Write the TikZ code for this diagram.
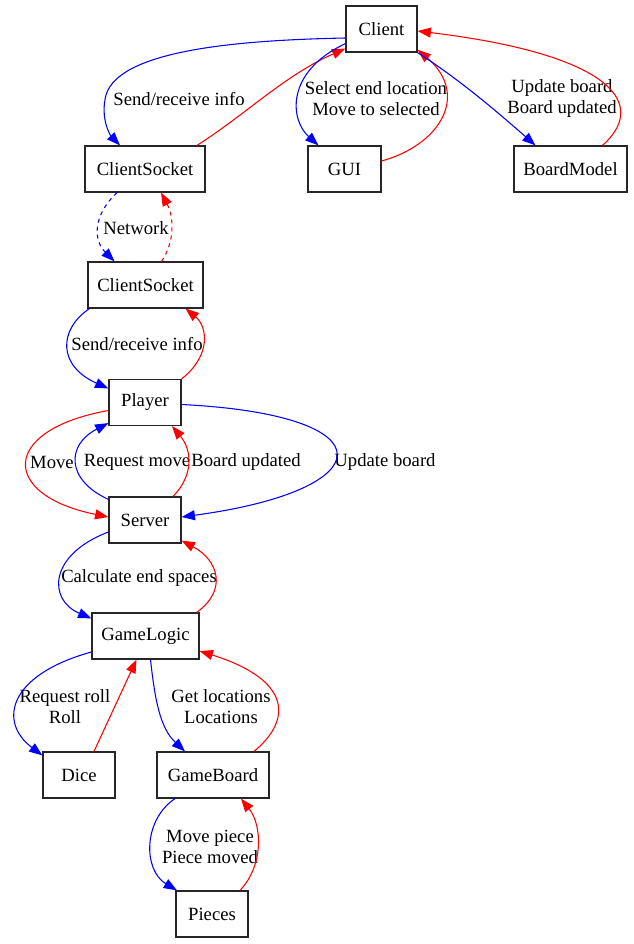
\documentclass[tikz,border=0pt]{standalone}
\usepackage{fontspec}
\setmainfont{Liberation Serif}
\newfontfamily\tms{Liberation Serif}
\usetikzlibrary{arrows.meta,calc}
\begin{document}
\begin{tikzpicture}[x=0.75pt,y=-0.75pt,
  box/.style={draw=black!85,line width=0.9pt,rectangle,inner sep=0pt,minimum height=34.5pt,font=\tms\fontsize{14pt}{16pt}\selectfont},
  lbl/.style={inner sep=0pt,align=center,font=\tms\fontsize{14pt}{15.75pt}\selectfont},
  tip/.style={-{Triangle[length=10pt,width=7.5pt]}},
  bl/.style={tip,draw=blue,line width=0.8pt},
  rd/.style={tip,draw=red,line width=0.8pt}]
\useasboundingbox (0,0) rectangle (633,944);
% nodes
\node[box,minimum width=53.25pt] (client) at (381.5,29) {Client};
\node[box,minimum width=90pt] (cs1) at (145,169) {ClientSocket};
\node[box,minimum width=54.75pt] (gui) at (344.5,169) {GUI};
\node[box,minimum width=84.75pt] (bm) at (570.5,169) {BoardModel};
\node[box,minimum width=86.25pt] (cs2) at (145.5,285) {ClientSocket};
\node[box,minimum width=54pt] (player) at (145,402.5) {Player};
\node[box,minimum width=54pt] (server) at (145,520) {Server};
\node[box,minimum width=80.25pt] (gl) at (145.5,636) {GameLogic};
\node[box,minimum width=54pt] (dice) at (79,775) {Dice};
\node[box,minimum width=84pt] (gb) at (213,775) {GameBoard};
\node[box,minimum width=54pt] (pieces) at (212,914) {Pieces};
% labels
\node[lbl] (l1) at (179,99) {Send/receive info};
\node[lbl] (l2) at (376,99) {Select end location\\Move to selected};
\node[lbl] (l3) at (562,99) {Update board\\Board updated};
\node[lbl] (l4) at (136,228) {Network};
\node[lbl] (l5) at (137,344) {Send/receive info};
\node[lbl] (l6) at (52,462) {Move};
\node[lbl] (l7) at (137,462) {Request move};
\node[lbl] (l8) at (246,462) {Board updated};
\node[lbl] (l9) at (385,462) {Update board};
\node[lbl] (l10) at (139,578) {Calculate end spaces};
\node[lbl] (l11) at (65,707) {Request roll\\Roll};
\node[lbl] (l12) at (221,707) {Get locations\\Locations};
\node[lbl] (l13) at (210,847) {Move piece\\Piece moved};
% edges
\draw[bl] ($(client.west)+(0,9)$) .. controls (250,40) and (120,48) .. (106,95) .. controls (100,118) and (110,135) .. ($(cs1.north)+(-25,0)$);
\draw[rd] ($(cs1.north)+(52,0)$) .. controls (245,115) and (285,75) .. ($(client.south west)+(0,-4)$);
\draw[bl] ($(client.south west)+(0,-9)$) .. controls (285,72) and (290,120) .. ($(gui.north)+(-26,0)$);
\draw[rd] ($(gui.east)+(0,-8)$) .. controls (440,145) and (470,95) .. ($(client.south east)+(0,-3)$);
\draw[bl] (client.south east) .. controls (460,80) and (495,110) .. ($(bm.north)+(-35,0)$);
\draw[rd] ($(bm.north)+(32,0)$) .. controls (648,105) and (615,55) .. ($(client.east)+(0,2)$);
\draw[bl,dashed] ($(cs1.south)+(-28,0)$) .. controls (93,215) and (93,240) .. ($(cs2.north)+(-31,0)$);
\draw[rd,dashed] ($(cs2.north)+(16,0)$) .. controls (176,240) and (173,215) .. ($(cs1.south)+(16,0)$);
\draw[bl] ($(cs2.south west)+(2,0)$) .. controls (58,330) and (58,366) .. ($(player.west)+(0,-14)$);
\draw[rd] (player.north east) .. controls (212,355) and (207,326) .. ($(cs2.south)+(40,0)$);
\draw[rd] ($(player.west)+(0,8)$) .. controls (0,430) and (0,495) .. ($(server.west)+(0,-3)$);
\draw[bl] ($(server.north west)+(0,3)$) .. controls (66,480) and (66,445) .. ($(player.south west)+(0,-3)$);
\draw[rd] ($(server.north)+(28,0)$) .. controls (194,475) and (192,450) .. ($(player.south)+(27,0)$);
\draw[bl] ($(player.east)+(0,2)$) .. controls (392,415) and (382,490) .. ($(server.east)+(0,-3)$);
\draw[bl] ($(server.west)+(0,12)$) .. controls (48,555) and (48,600) .. ($(gl.north west)+(0,6)$);
\draw[rd] ($(gl.north east)+(-3,0)$) .. controls (228,590) and (218,560) .. ($(server.south east)+(0,-3)$);
\draw[bl] ($(gl.west)+(0,16)$) .. controls (8,675) and (-2,722) .. ($(dice.north west)+(0,4)$);
\draw[rd] ($(dice.north)+(15,0)$) -- ($(gl.south)+(-9,0)$);
\draw[bl] ($(gl.south)+(5,0)$) .. controls (155,700) and (160,728) .. ($(gb.north)+(-28,0)$);
\draw[rd] ($(gb.north)+(41,0)$) .. controls (292,720) and (292,680) .. ($(gl.east)+(0,15)$);
\draw[bl] ($(gb.south)+(-38,0)$) .. controls (143,820) and (143,870) .. ($(pieces.north)+(-35,0)$);
\draw[rd] ($(pieces.north)+(28,0)$) .. controls (264,865) and (262,825) .. ($(gb.south)+(28,0)$);
\end{tikzpicture}
\end{document}
